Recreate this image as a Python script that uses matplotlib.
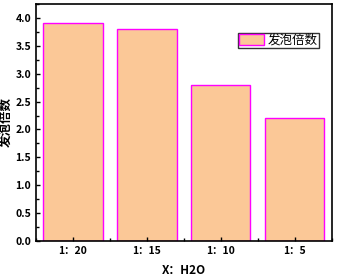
import matplotlib.pyplot as plt
from matplotlib.ticker import MultipleLocator

plt.rcParams['font.family'] = ['Noto Sans CJK SC', 'DejaVu Sans']

ratios = ["1：20", "1：15", "1：10", "1：5"]
foam = [3.9, 3.8, 2.8, 2.2]

fig = plt.figure(figsize=(3.39, 2.79), dpi=100)
ax = fig.add_axes([0.106, 0.136, 0.873, 0.85])

pos = range(len(ratios))
ax.bar(pos, foam, width=0.8, color='#FBC897', edgecolor='#FF00FF',
       linewidth=1.0, label='发泡倍数')

ax.set_xlim(-0.5, 3.5)
ax.set_ylim(0, 4.25)
ax.set_xticks(list(pos))
ax.set_xticklabels(ratios, fontsize=7.5, fontweight='bold')
ax.xaxis.set_minor_locator(MultipleLocator(0.5))
ax.yaxis.set_major_locator(MultipleLocator(0.5))
ax.yaxis.set_minor_locator(MultipleLocator(0.25))
ax.tick_params(which='both', direction='in', width=1)
ax.tick_params(which='major', length=3)
ax.tick_params(which='minor', length=2)
ax.yaxis.set_major_formatter(plt.FuncFormatter(lambda v, p: f"{v:.1f}"))
for lab in ax.get_yticklabels():
    lab.set_fontsize(7.5)
    lab.set_fontweight('bold')

for s in ax.spines.values():
    s.set_linewidth(1.2)

ax.set_xlabel("X：H2O", fontsize=8.5, fontweight='bold', labelpad=6)
ax.set_ylabel("发泡倍数", fontsize=9, fontweight='bold', labelpad=2)

leg = ax.legend(loc='upper right', bbox_to_anchor=(0.97, 0.895), fontsize=9,
                frameon=True, fancybox=False, edgecolor='black',
                handlelength=2.0, handleheight=0.9, borderpad=0.1,
                borderaxespad=0.3, handletextpad=0.3)
leg.get_frame().set_linewidth(1.0)

fig.savefig("out.png", dpi=100)
